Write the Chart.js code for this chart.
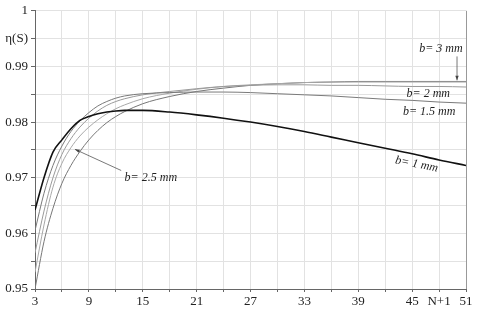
<!DOCTYPE html>
<html>
<head>
<meta charset="utf-8">
<script src="https://cdn.jsdelivr.net/npm/chart.js@4.4.0/dist/chart.umd.min.js"></script>
<style>
  html, body { margin: 0; padding: 0; background: #fff; }
</style>
</head>
<body>
<canvas id="effChart" width="480" height="313"></canvas>
<script>
const nValues = [3, 4, 5, 6, 7, 8, 9, 10, 11, 12, 13, 15, 18, 21, 24, 27, 30, 33, 36, 39, 42, 45, 48, 51];

const eta_b1 = [0.9642, 0.9700, 0.9746, 0.9768, 0.9788, 0.9803, 0.9810, 0.9815, 0.9818, 0.9820, 0.9821, 0.9821,
  0.9818, 0.9813, 0.9807, 0.9800, 0.9792, 0.9783, 0.9773, 0.9763, 0.9753, 0.9743, 0.9732, 0.9722];
const eta_b15 = [0.9605, 0.9672, 0.9722, 0.9757, 0.9783, 0.9802, 0.9817, 0.9829, 0.9837, 0.9843, 0.9847, 0.9851,
  0.9853, 0.9854, 0.9854, 0.9853, 0.9851, 0.9849, 0.9847, 0.9844, 0.9841, 0.9839, 0.9836, 0.9834];
const eta_b2 = [0.9565, 0.9640, 0.9700, 0.9742, 0.9770, 0.9791, 0.9807, 0.9820, 0.9830, 0.9837, 0.9842, 0.9849,
  0.9855, 0.9860, 0.9864, 0.9866, 0.9867, 0.9867, 0.9866, 0.9866, 0.9865, 0.9864, 0.9864, 0.9863];
const eta_b25 = [0.9530, 0.9615, 0.9683, 0.9726, 0.9754, 0.9775, 0.9791, 0.9804, 0.9815, 0.9824, 0.9831, 0.9842,
  0.9852, 0.9859, 0.9864, 0.9867, 0.9869, 0.9871, 0.9872, 0.9872, 0.9872, 0.9872, 0.9872, 0.9872];
const eta_b3 = [0.9500, 0.9585, 0.9645, 0.9690, 0.9722, 0.9747, 0.9768, 0.9785, 0.9799, 0.9810, 0.9819, 0.9833,
  0.9846, 0.9855, 0.9861, 0.9866, 0.9869, 0.9871, 0.9872, 0.9873, 0.9873, 0.9873, 0.9873, 0.9873];

const xTicks = [3, 6, 9, 12, 15, 18, 21, 24, 27, 30, 33, 36, 39, 42, 45, 48, 51];
const xTickLabels = ['3', '', '9', '', '15', '', '21', '', '27', '', '33', '', '39', '', '45', 'N+1', '51'];
const yTicks = [0.95, 0.955, 0.96, 0.965, 0.97, 0.975, 0.98, 0.985, 0.99, 0.995, 1];
const yTickLabels = ['0.95', '', '0.96', '', '0.97', '', '0.98', '', '0.99', 'η(S)', '1'];

const toPoints = (ys) => ys.map((y, i) => ({ x: nValues[i], y: y }));

const serif = "'Liberation Serif', 'DejaVu Serif', serif";

function arrow(ctx, x1, y1, x2, y2) {
  const ang = Math.atan2(y2 - y1, x2 - x1);
  ctx.beginPath();
  ctx.moveTo(x1, y1);
  ctx.lineTo(x2, y2);
  ctx.stroke();
  ctx.beginPath();
  ctx.moveTo(x2, y2);
  ctx.lineTo(x2 - 5 * Math.cos(ang - 0.35), y2 - 5 * Math.sin(ang - 0.35));
  ctx.lineTo(x2 - 5 * Math.cos(ang + 0.35), y2 - 5 * Math.sin(ang + 0.35));
  ctx.closePath();
  ctx.fill();
}

const labelPlugin = {
  id: 'curveLabels',
  afterDatasetsDraw(chart) {
    const { ctx, scales: { x, y } } = chart;
    ctx.save();
    ctx.font = 'italic 12px ' + serif;
    ctx.fillStyle = '#222';
    ctx.strokeStyle = '#555';
    ctx.lineWidth = 0.8;
    ctx.textAlign = 'center';
    ctx.textBaseline = 'middle';

    ctx.fillText('b= 3 mm', x.getPixelForValue(48.2), y.getPixelForValue(0.9931));
    ctx.fillStyle = '#444';
    arrow(ctx, x.getPixelForValue(50), y.getPixelForValue(0.9918), x.getPixelForValue(50), y.getPixelForValue(0.9875));
    ctx.fillStyle = '#222';
    ctx.fillText('b= 2 mm', x.getPixelForValue(46.8), y.getPixelForValue(0.9851));
    ctx.fillText('b= 1.5 mm', x.getPixelForValue(46.9), y.getPixelForValue(0.9818));

    ctx.save();
    ctx.translate(x.getPixelForValue(45.5), y.getPixelForValue(0.9724));
    ctx.rotate(11 * Math.PI / 180);
    ctx.fillText('b= 1 mm', 0, 0);
    ctx.restore();

    ctx.fillText('b= 2.5 mm', x.getPixelForValue(15.9), y.getPixelForValue(0.9699));
    ctx.fillStyle = '#444';
    arrow(ctx, x.getPixelForValue(12.6), y.getPixelForValue(0.9713), x.getPixelForValue(7.45), y.getPixelForValue(0.9751));
    ctx.restore();
  }
};

new Chart(document.getElementById('effChart'), {
  type: 'line',
  data: {
    datasets: [
      { label: 'b=1', data: toPoints(eta_b1), borderColor: '#111', borderWidth: 1.6 },
      { label: 'b=1.5', data: toPoints(eta_b15), borderColor: '#7a7a7a', borderWidth: 1 },
      { label: 'b=2', data: toPoints(eta_b2), borderColor: '#9a9a9a', borderWidth: 1 },
      { label: 'b=2.5', data: toPoints(eta_b25), borderColor: '#a8a8a8', borderWidth: 1 },
      { label: 'b=3', data: toPoints(eta_b3), borderColor: '#777', borderWidth: 1 },
    ],
  },
  options: {
    responsive: false,
    devicePixelRatio: 1,
    animation: false,
    elements: { point: { radius: 0 }, line: { cubicInterpolationMode: 'monotone' } },
    layout: { padding: { top: 10, right: 14, left: 0, bottom: 0 } },
    plugins: { legend: { display: false }, tooltip: { enabled: false } },
    scales: {
      x: {
        type: 'linear',
        min: 3,
        max: 51,
        afterBuildTicks: (scale) => { scale.ticks = xTicks.map((v) => ({ value: v })); },
        afterFit: (scale) => { scale.height = 24; },
        grid: {
          color: (c) => (c.tick && c.tick.value === 51 ? '#999' : '#e2e2e2'),
          tickColor: '#666',
          tickLength: 3,
        },
        border: { display: true, color: '#666' },
        ticks: {
          autoSkip: false,
          maxRotation: 0,
          padding: 2,
          color: '#222',
          font: { family: serif, size: 13 },
          callback: (v, i) => xTickLabels[i],
        },
      },
      y: {
        type: 'linear',
        min: 0.95,
        max: 1,
        afterBuildTicks: (scale) => { scale.ticks = yTicks.map((v) => ({ value: v })); },
        afterFit: (scale) => { scale.width = 35; },
        grid: { color: '#e2e2e2', tickColor: '#666', tickLength: 4 },
        border: { display: true, color: '#666' },
        ticks: {
          autoSkip: false,
          padding: 3,
          color: '#222',
          font: { family: serif, size: 13 },
          callback: (v, i) => yTickLabels[i],
        },
      },
    },
  },
  plugins: [labelPlugin],
});
</script>
</body>
</html>
